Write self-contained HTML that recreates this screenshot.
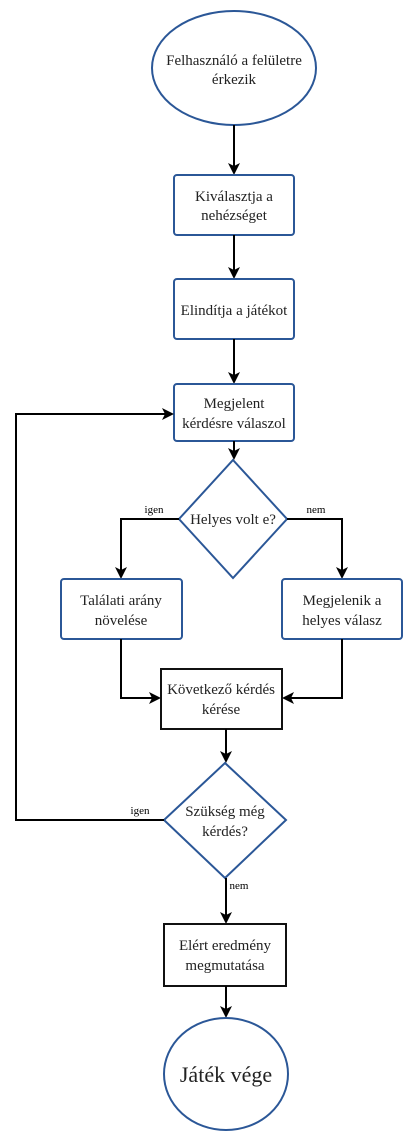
<!DOCTYPE html>
<html><head><meta charset="utf-8"><style>
html,body{margin:0;padding:0;background:#fff;}
svg{display:block;}
text{font-family:"Liberation Serif",serif;fill:#222;font-size:15px;text-anchor:middle;}
.b{fill:#fff;stroke:#2b5797;stroke-width:2;}
.k{fill:#fff;stroke:#111;stroke-width:2;}
.l{fill:none;stroke:#000;stroke-width:2;}
.s{font-size:11px;fill:#000;}
</style></head><body>
<svg width="415" height="1133" viewBox="0 0 415 1133">
<defs><marker id="a" markerWidth="12" markerHeight="12" refX="10" refY="6" orient="auto" markerUnits="userSpaceOnUse"><path d="M0,0 L12,6 L0,12 L3,6 z" fill="#000"/></marker></defs>
<ellipse class="b" cx="234" cy="68" rx="82" ry="57"/>
<text x="234" y="65">Felhasználó a felületre</text><text x="234" y="84">érkezik</text>
<path class="l" d="M234 125 V173" marker-end="url(#a)"/>
<rect class="b" x="174" y="175" width="120" height="60" rx="3"/>
<text x="234" y="201">Kiválasztja a</text><text x="234" y="220">nehézséget</text>
<path class="l" d="M234 235 V277" marker-end="url(#a)"/>
<rect class="b" x="174" y="279" width="120" height="60" rx="3"/>
<text x="234" y="315">Elindítja a játékot</text>
<path class="l" d="M234 339 V382" marker-end="url(#a)"/>
<rect class="b" x="174" y="384" width="120" height="57" rx="3"/>
<text x="234" y="408">Megjelent</text><text x="234" y="428">kérdésre válaszol</text>
<path class="l" d="M234 441 V458" marker-end="url(#a)"/>
<polygon class="b" points="233,460 287,519 233,578 179,519"/>
<text x="233" y="524">Helyes volt e?</text>
<path class="l" d="M179 519 H121 V577" marker-end="url(#a)"/>
<text class="s" x="154" y="513">igen</text>
<path class="l" d="M287 519 H342 V577" marker-end="url(#a)"/>
<text class="s" x="316" y="513">nem</text>
<rect class="b" x="61" y="579" width="121" height="60" rx="3"/>
<text x="121" y="605">Találati arány</text><text x="121" y="625">növelése</text>
<rect class="b" x="282" y="579" width="120" height="60" rx="3"/>
<text x="342" y="605">Megjelenik a</text><text x="342" y="625">helyes válasz</text>
<path class="l" d="M121 639 V698 H159" marker-end="url(#a)"/>
<path class="l" d="M342 639 V698 H284" marker-end="url(#a)"/>
<rect class="k" x="161" y="669" width="121" height="60"/>
<text x="221" y="694">Következő kérdés</text><text x="221" y="714">kérése</text>
<path class="l" d="M226 729 V761" marker-end="url(#a)"/>
<polygon class="b" points="225,763 286,820 225,878 164,820"/>
<text x="225" y="816">Szükség még</text><text x="225" y="836">kérdés?</text>
<path class="l" d="M164 820 H16 V414 H172" marker-end="url(#a)"/>
<text class="s" x="140" y="814">igen</text>
<path class="l" d="M226 878 V922" marker-end="url(#a)"/>
<text class="s" x="239" y="889">nem</text>
<rect class="k" x="164" y="924" width="122" height="62"/>
<text x="225" y="950">Elért eredmény</text><text x="225" y="970">megmutatása</text>
<path class="l" d="M226 986 V1016" marker-end="url(#a)"/>
<ellipse class="b" cx="226" cy="1074" rx="62" ry="56"/>
<text x="226" y="1082" style="font-size:22px">Játék vége</text>
</svg>
</body></html>
